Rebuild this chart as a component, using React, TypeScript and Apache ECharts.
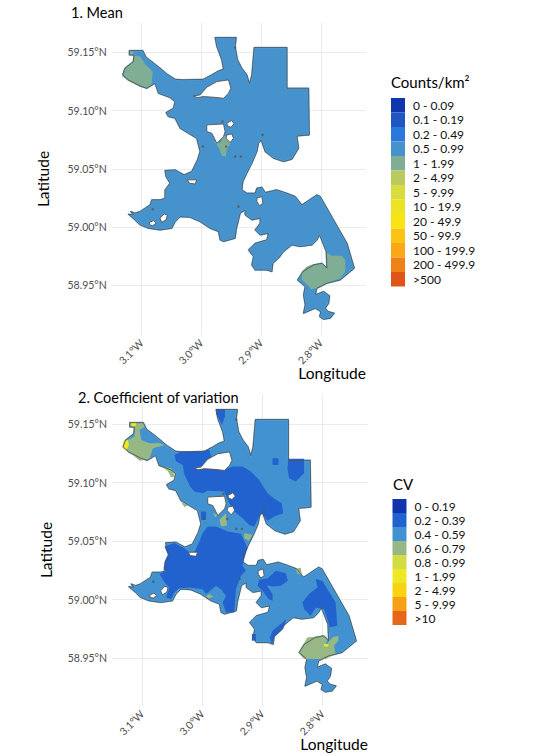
import React, { useEffect, useRef } from "react";
import * as echarts from "echarts";

type Pt = [number, number];

const lonTicks = [-3.1, -3.0, -2.9, -2.8];
const latTicks = [58.95, 59.0, 59.05, 59.1, 59.15];

const meanClasses = ["0 - 0.09", "0.1 - 0.19", "0.2 - 0.49", "0.5 - 0.99", "1 - 1.99", "2 - 4.99", "5 - 9.99", "10 - 19.9", "20 - 49.9", "50 - 99.9", "100 - 199.9", "200 - 499.9", ">500"];
const meanColors = ["#1036ae", "#1f56c4", "#2a78dc", "#4592cc", "#7fae94", "#b9cb5e", "#d8dc3c", "#ece322", "#f8e414", "#fbc412", "#fba716", "#ef8216", "#e15418"];
const cvClasses = ["0 - 0.19", "0.2 - 0.39", "0.4 - 0.59", "0.6 - 0.79", "0.8 - 0.99", "1 - 1.99", "2 - 4.99", "5 - 9.99", ">10"];
const cvColors = ["#0f34ae", "#2162cf", "#4292d2", "#97b884", "#d2dc45", "#eee924", "#f9d312", "#f6a016", "#e4671a"];

const lakeOutline: Pt[] = [
  [-3.1207, 59.1514], [-3.0983, 59.1514], [-3.0927, 59.1457], [-3.0832, 59.142], [-3.0693, 59.1363], [-3.0581, 59.1314], [-3.0441, 59.1268], [-3.0312, 59.1263], [-2.9966, 59.1268], [-2.9826, 59.1306], [-2.9714, 59.134], [-2.963, 59.1354], [-2.9658, 59.1434], [-2.9742, 59.1549], [-2.977, 59.1626], [-2.9418, 59.1626], [-2.9435, 59.1549], [-2.9396, 59.1434], [-2.9323, 59.1363], [-2.9239, 59.1306], [-2.9194, 59.1228], [-2.9155, 59.1306], [-2.9116, 59.154], [-2.8568, 59.154], [-2.8568, 59.1191], [-2.8205, 59.1191], [-2.8194, 59.0791], [-2.8401, 59.0782], [-2.8373, 59.0676], [-2.8485, 59.0582], [-2.8624, 59.0562], [-2.8792, 59.0591], [-2.8932, 59.0648], [-2.8999, 59.0748], [-2.9044, 59.0719], [-2.9071, 59.0648], [-2.9155, 59.0548], [-2.9239, 59.0462], [-2.9306, 59.039],
  [-2.9323, 59.0319], [-2.9239, 59.029], [-2.9099, 59.029], [-2.9071, 59.0333], [-2.8988, 59.0342], [-2.8932, 59.0296], [-2.8736, 59.0319], [-2.8568, 59.029], [-2.8429, 59.0262], [-2.8317, 59.019], [-2.8065, 59.0276], [-2.8009, 59.0262], [-2.7562, 58.9861], [-2.7439, 58.9647], [-2.7674, 58.9547], [-2.7898, 58.9518], [-2.8065, 58.9475], [-2.8093, 58.9418], [-2.7953, 58.9447], [-2.7853, 58.9409], [-2.787, 58.9346], [-2.7926, 58.9304], [-2.7881, 58.9275], [-2.7775, 58.9261], [-2.7842, 58.9218], [-2.7953, 58.9209], [-2.802, 58.9232], [-2.7998, 58.9275], [-2.8093, 58.9304], [-2.8289, 58.9261], [-2.8261, 58.9332], [-2.8289, 58.9418], [-2.8261, 58.9489], [-2.8389, 58.9547], [-2.83, 58.9618], [-2.8121, 58.9675], [-2.7981, 58.969], [-2.7898, 58.9647], [-2.7909, 58.979], [-2.802, 58.9933], [-2.8065, 58.989], [-2.8149, 58.9847], [-2.8345, 58.9833], [-2.8485, 58.9847], [-2.8624, 58.979], [-2.8708, 58.9733], [-2.8803, 58.969], [-2.882, 58.9618], [-2.8904, 58.9632], [-2.9099, 58.9632], [-2.9155, 58.9675], [-2.9127, 58.9747], [-2.9211, 58.9804], [-2.9099, 58.9861], [-2.8904, 58.989], [-2.8876, 58.9947], [-2.9016, 58.9933], [-2.9099, 58.9976], [-2.9016, 59.0033], [-2.9016, 59.0076], [-2.9155, 59.0062], [-2.9267, 59.0104], [-2.9267, 59.0147], [-2.9351, 59.0119], [-2.9418, 58.9976], [-2.9435, 58.9904], [-2.963, 58.9876], [-2.9686, 58.989], [-2.9714, 58.9961], [-2.9854, 58.999], [-3.0022, 59.0047], [-3.0189, 59.0084], [-3.0357, 59.009], [-3.0441, 59.0047], [-3.0497, 58.999], [-3.0693, 58.9976], [-3.0888, 58.999], [-3.1028, 59.0019], [-3.1112, 59.0062], [-3.1224, 59.011], [-3.114, 59.0104], [-3.1184, 59.0133], [-3.1112, 59.0119], [-3.1028, 59.0133], [-3.086, 59.019], [-3.0832, 59.0233], [-3.0693, 59.0233], [-3.0609, 59.0247], [-3.0609, 59.0319], [-3.0525, 59.0376], [-3.0592, 59.0433], [-3.0609, 59.0485], [-3.0441, 59.049], [-3.029, 59.0448], [-3.0162, 59.0476], [-3.0066, 59.0576], [-3.0022, 59.0648], [-3.0078, 59.0762], [-3.0217, 59.0805], [-3.0357, 59.0848], [-3.0441, 59.0934], [-3.0553, 59.0948], [-3.0592, 59.0982], [-3.0469, 59.102], [-3.0441, 59.1077], [-3.0525, 59.1111], [-3.072, 59.1148], [-3.0776, 59.1234], [-3.0916, 59.1191], [-3.1028, 59.1211], [-3.1224, 59.1263], [-3.1319, 59.1306], [-3.128, 59.1363], [-3.114, 59.142], [-3.1129, 59.1477], [-3.1207, 59.1477],
];

const lakeHoles: Pt[][] = [
  [[-3.0134, 59.1125], [-3.0022, 59.1134], [-2.991, 59.12], [-2.9742, 59.1248], [-2.9547, 59.1263], [-2.9507, 59.1191], [-2.9547, 59.1148], [-2.963, 59.1105], [-2.9798, 59.1114], [-2.9966, 59.112], [-3.0066, 59.1111]],
  [[-2.991, 59.0877], [-2.963, 59.0885], [-2.9603, 59.0819], [-2.963, 59.0776], [-2.9742, 59.0719], [-2.9826, 59.0805], [-2.991, 59.0819]],
  [[-2.9575, 59.0891], [-2.9491, 59.0914], [-2.9452, 59.0885], [-2.9507, 59.0857], [-2.9563, 59.0868]],
  [[-2.9575, 59.0791], [-2.9491, 59.0799], [-2.9463, 59.0762], [-2.9519, 59.0725], [-2.9586, 59.0762]],
  [[-3.0871, 59.0039], [-3.0804, 59.0056], [-3.076, 59.0033], [-3.0816, 59.0013], [-3.0871, 59.0019]],
  [[-3.0693, 59.0076], [-3.0625, 59.0113], [-3.057, 59.0104], [-3.0592, 59.0062], [-3.0665, 59.0041]],
  [[-2.9071, 59.0247], [-2.8988, 59.0262], [-2.8971, 59.0204], [-2.9027, 59.0184], [-2.9071, 59.0219]],
  [[-3.0234, 59.0405], [-3.0078, 59.0405], [-3.0106, 59.037], [-3.0201, 59.0376]],
];

const lakeIslands: Pt[] = [[-2.9977, 59.0691], [-2.9647, 59.0905], [-2.9586, 59.0691], [-2.9435, 59.0605], [-2.934, 59.0605], [-2.8976, 59.0791], [-2.9435, 59.154], [-2.9379, 59.0176], [-3.0816, 59.0153]];

const meanClass1: Pt[][] = [
  [[-3.1207, 59.1514], [-3.1151, 59.1506], [-3.1112, 59.1469], [-3.1028, 59.1463], [-3.0944, 59.14], [-3.0816, 59.1334], [-3.0832, 59.1234], [-3.0905, 59.1185], [-3.1028, 59.1205], [-3.1224, 59.1254], [-3.133, 59.1297], [-3.1291, 59.1363], [-3.1151, 59.142], [-3.114, 59.1477], [-3.1207, 59.1477]],
  [[-2.9809, 59.0734], [-2.9698, 59.0719], [-2.9619, 59.0782], [-2.9547, 59.0782], [-2.9507, 59.0725], [-2.9575, 59.0668], [-2.9591, 59.0605], [-2.9658, 59.0611], [-2.9698, 59.0668], [-2.9753, 59.0714]],
  [[-2.7909, 58.9781], [-2.7814, 58.9753], [-2.7646, 58.9753], [-2.759, 58.9718], [-2.759, 58.9618], [-2.7674, 58.9561], [-2.7898, 58.9518], [-2.8065, 58.9475], [-2.8166, 58.9467], [-2.8205, 58.9495], [-2.8317, 58.9547], [-2.8317, 58.9618], [-2.8233, 58.9661], [-2.8121, 58.9684], [-2.7981, 58.969], [-2.7898, 58.9647]],
];

const cvClass02: Pt[][] = [
  [[-2.9772, 59.1631], [-2.9623, 59.1631], [-2.9623, 59.1566], [-2.9673, 59.1494], [-2.9728, 59.1551], [-2.9772, 59.1594]],
  [[-3.0464, 59.1238], [-3.0353, 59.1266], [-2.9994, 59.1272], [-2.9883, 59.1281], [-2.9855, 59.1224], [-2.9772, 59.1124], [-2.9634, 59.111], [-2.9496, 59.1138], [-2.933, 59.1138], [-2.9192, 59.1095], [-2.9053, 59.1024], [-2.8915, 59.091], [-2.8777, 59.0853], [-2.8677, 59.0825], [-2.8655, 59.0739], [-2.8805, 59.0711], [-2.8915, 59.0674], [-2.9009, 59.0739], [-2.9053, 59.0711], [-2.9136, 59.0625], [-2.9219, 59.0639], [-2.933, 59.0696], [-2.9468, 59.0753], [-2.9551, 59.0825], [-2.9634, 59.0924], [-2.9911, 59.093], [-2.9994, 59.091], [-3.0132, 59.0924], [-3.0204, 59.0967], [-3.0242, 59.101], [-3.0298, 59.1067], [-3.0325, 59.1152], [-3.0436, 59.1181]],
  [[-3.0021, 59.0753], [-2.9938, 59.0753], [-2.9938, 59.0682], [-3.0021, 59.0682]],
  [[-3.0629, 59.0454], [-3.0464, 59.0483], [-3.0298, 59.044], [-3.0159, 59.0377], [-3.0049, 59.0497], [-2.9994, 59.0568], [-2.9911, 59.0625], [-2.9772, 59.0625], [-2.9579, 59.0582], [-2.9358, 59.0562], [-2.9297, 59.0497], [-2.9247, 59.044], [-2.9319, 59.0326], [-2.933, 59.0289], [-2.9275, 59.0246], [-2.9358, 59.0203], [-2.9441, 59.0089], [-2.9468, 58.989], [-2.9606, 58.989], [-2.9662, 58.9975], [-2.9606, 59.0032], [-2.9689, 59.0089], [-2.9772, 59.0118], [-2.9938, 59.0047], [-2.9994, 59.0089], [-3.0215, 59.0104], [-3.0392, 59.0095], [-3.0464, 59.0061], [-3.0519, 59.0004], [-3.0602, 59.0018], [-3.0547, 59.0104], [-3.0629, 59.0146], [-3.0712, 59.0218], [-3.0602, 59.0246], [-3.0646, 59.0255], [-3.0629, 59.0326], [-3.0574, 59.0383]],
  [[-2.9053, 59.0169], [-2.8915, 59.018], [-2.8777, 59.0246], [-2.8611, 59.0226], [-2.8578, 59.016], [-2.8694, 59.0118], [-2.8832, 59.0112], [-2.8932, 59.0123], [-2.8832, 59.0047], [-2.8832, 58.999], [-2.8899, 59.0004], [-2.8998, 59.0075], [-2.9081, 59.0118]],
  [[-2.8113, 59.0175], [-2.8003, 59.016], [-2.7782, 58.9975], [-2.7754, 58.9776], [-2.7881, 58.9762], [-2.792, 58.9833], [-2.7975, 58.9918], [-2.8113, 58.9933], [-2.8196, 58.9861], [-2.8307, 58.9918], [-2.8335, 58.9975], [-2.8224, 59.0047], [-2.8086, 59.0104]],
  [[-2.8832, 58.9733], [-2.8666, 58.9804], [-2.86, 58.9833], [-2.8655, 58.9747], [-2.8805, 58.9676], [-2.8843, 58.9619], [-2.8876, 58.967]],
  [[-2.9175, 58.9705], [-2.9109, 58.9705], [-2.9109, 58.9648], [-2.9175, 58.9648]],
  [[-2.8567, 59.1204], [-2.8307, 59.1204], [-2.8307, 59.1081], [-2.8445, 59.101], [-2.8556, 59.1038], [-2.8583, 59.1124]],
  [[-2.8832, 59.1209], [-2.8733, 59.1209], [-2.8733, 59.1152], [-2.8832, 59.1152]],
];

const cvClass06: Pt[][] = [
  [[-3.121, 59.1517], [-3.1017, 59.1517], [-3.0945, 59.148], [-3.1044, 59.1452], [-3.1017, 59.1366], [-3.0878, 59.1338], [-3.0712, 59.1338], [-3.0629, 59.1323], [-3.0823, 59.1295], [-3.0878, 59.1204], [-3.1044, 59.1187], [-3.121, 59.1258], [-3.1321, 59.1301], [-3.1238, 59.1366], [-3.1127, 59.1395], [-3.1127, 59.1466], [-3.121, 59.148]],
  [[-3.0685, 59.1138], [-3.0519, 59.1124], [-3.0453, 59.1053], [-3.0519, 59.1044], [-3.0574, 59.1101]],
  [[-3.0353, 59.0833], [-3.0226, 59.081], [-3.0298, 59.0793]],
  [[-2.9717, 59.0682], [-2.9606, 59.0739], [-2.959, 59.0634], [-2.9689, 59.0625]],
  [[-2.9828, 59.0739], [-2.9745, 59.0725], [-2.9783, 59.0705]],
  [[-2.9302, 59.0568], [-2.9164, 59.0554], [-2.923, 59.0503], [-2.9302, 59.0525]],
  [[-2.8445, 59.026], [-2.8362, 59.0274], [-2.8346, 59.0212], [-2.8418, 59.0218]],
  [[-2.9966, 59.0018], [-2.9883, 59.0047], [-2.9817, 59.0027], [-2.9911, 59.0004]],
  [[-2.8252, 58.9676], [-2.7975, 58.969], [-2.792, 58.9676], [-2.7947, 58.9605], [-2.7837, 58.9676], [-2.7737, 58.969], [-2.7737, 58.9648], [-2.7809, 58.9605], [-2.7782, 58.9534], [-2.7947, 58.9491], [-2.8113, 58.9491], [-2.8307, 58.9491], [-2.8401, 58.9542], [-2.8335, 58.9605]],
];

const cvClass1: Pt[][] = [
  [[-3.1321, 59.1352], [-3.1238, 59.1366], [-3.1221, 59.1323], [-3.1265, 59.1275], [-3.1321, 59.1295]],
  [[-3.1182, 59.1517], [-3.11, 59.1517], [-3.1111, 59.148], [-3.1182, 59.148]],
  [[-2.7975, 58.9619], [-2.7903, 58.9619], [-2.7903, 58.9599], [-2.7975, 58.9599]],
];

const FONT = "Lato";
const INK = "#4d4d4d";

function polygonSeries(name: string, color: string, polys: Pt[][], panel: number, z: number, stroke = "none", lineWidth = 0, fill: string = color) {
  return {
    type: "custom",
    name,
    xAxisIndex: panel,
    yAxisIndex: panel,
    coordinateSystem: "cartesian2d",
    silent: true,
    z,
    itemStyle: { color },
    encode: { x: 0, y: 1 },
    data: polys.map((p, i) => [p[0][0], p[0][1], i]),
    renderItem: (_: unknown, api: any) => ({
      type: "polygon",
      shape: { points: polys[api.value(2)].map((q) => api.coord(q)) },
      style: { fill, stroke, lineWidth, lineJoin: "round" },
    }),
  };
}

function panelSeries(panel: number, base: string, classes: string[], colors: string[], zones: Record<string, Pt[][]>, zoneOrder: string[]) {
  const baseName = panel === 0 ? meanClasses[3] : cvClasses[2];
  const out: any[] = [polygonSeries(baseName, base, [lakeOutline], panel, 2, "#5cabe6", 1.6)];
  zoneOrder.forEach((name, i) => {
    out.push(polygonSeries(name, colors[classes.indexOf(name)], zones[name], panel, 3 + i));
  });
  out.push(polygonSeries("hole", "#ffffff", lakeHoles, panel, 8, "#555555", 0.9));
  out.push(polygonSeries("shore", "#555555", [lakeOutline], panel, 9, "#555555", 0.9, "none"));
  out.push({ type: "scatter", name: "island", xAxisIndex: panel, yAxisIndex: panel, silent: true, symbolSize: 2.5, z: 10, itemStyle: { color: "#555555" }, data: lakeIslands });
  return out;
}

function makeXAxis(gridIndex: number) {
  return {
    type: "value",
    gridIndex,
    min: -3.1503,
    max: -2.7243,
    name: "Longitude",
    nameLocation: "end",
    nameGap: 0,
    nameMoveOverlap: false,
    nameTextStyle: { color: "#000", fontFamily: FONT, fontSize: 15.5, align: "right", verticalAlign: "top", padding: [30, 0, 0, 0] },
    axisLine: { show: false },
    axisTick: { show: false, customValues: lonTicks },
    axisLabel: { customValues: lonTicks, rotate: 45, margin: 6, color: INK, fontFamily: FONT, fontSize: 10.5, formatter: (v: number) => `${Math.abs(v).toFixed(1)}°W` },
    splitLine: { show: true, lineStyle: { color: "#ebebeb", width: 1 } },
  };
}

function makeYAxis(gridIndex: number, min: number, max: number, gap: number) {
  return {
    type: "value",
    gridIndex,
    min,
    max,
    name: "Latitude",
    nameLocation: "middle",
    nameGap: gap,
    nameMoveOverlap: false,
    nameTextStyle: { color: "#000", fontFamily: FONT, fontSize: 15.5 },
    axisLine: { show: false },
    axisTick: { show: false, customValues: latTicks },
    axisLabel: { customValues: latTicks, margin: 5, color: INK, fontFamily: FONT, fontSize: 10.5, formatter: (v: number) => `${v.toFixed(2)}°N` },
    splitLine: { show: true, lineStyle: { color: "#ebebeb", width: 1 } },
  };
}

function legendOf(names: string[], colors: string[], left: number, top: number, itemHeight: number) {
  return {
    show: true,
    orient: "vertical",
    left,
    top,
    padding: 0,
    itemGap: 0,
    itemWidth: 14,
    itemHeight,
    selectedMode: false,
    icon: "rect",
    textStyle: { fontFamily: FONT, fontSize: 12, color: "#111", padding: [0, 0, 0, 3] },
    data: names.map((name, i) => ({ name, icon: "rect", itemStyle: { color: colors[i] } })),
  };
}

function headline(text: string, left: number, top: number, fontSize: number) {
  return { text, left, top, padding: 0, textStyle: { fontFamily: FONT, fontSize, fontWeight: "normal", color: "#000" } };
}

export default function App() {
  const ref = useRef<HTMLDivElement>(null);
  useEffect(() => {
    document.body.style.margin = "0";
    const chart = echarts.init(ref.current!, undefined, { renderer: "svg" });
    const meanZones = { [meanClasses[4]]: meanClass1 };
    const cvZones = { [cvClasses[1]]: cvClass02, [cvClasses[3]]: cvClass06, [cvClasses[5]]: cvClass1 };
    const empties = (classes: string[], colors: string[], used: string[], panel: number) =>
      classes.filter((c) => !used.includes(c)).map((c) => polygonSeries(c, colors[classes.indexOf(c)], [], panel, 1));
    chart.setOption({
      animation: false,
      backgroundColor: "#ffffff",
      title: [
        headline("1. Mean", 71, 5, 14.5),
        headline("2. Coefficient of variation", 78, 390, 14.5),
        headline("Counts/km²", 391, 74, 15),
        headline("CV", 393, 476, 15),
      ],
      grid: [
        { left: 111.7, top: 23, width: 254.3, height: 312 },
        { left: 112, top: 394, width: 256, height: 312 },
      ],
      xAxis: [makeXAxis(0), makeXAxis(1)],
      yAxis: [makeYAxis(0, 58.9074, 59.1751, 61), makeYAxis(1, 58.9089, 59.1759, 58)],
      legend: [legendOf(meanClasses, meanColors, 391, 98, 14.5), legendOf(cvClasses, cvColors, 392.5, 499, 14)],
      series: [
        ...empties(meanClasses, meanColors, [meanClasses[3], meanClasses[4]], 0),
        ...empties(cvClasses, cvColors, [cvClasses[1], cvClasses[2], cvClasses[3], cvClasses[5]], 1),
        ...panelSeries(0, meanColors[3], meanClasses, meanColors, meanZones, [meanClasses[4]]),
        ...panelSeries(1, cvColors[2], cvClasses, cvColors, cvZones, [cvClasses[1], cvClasses[3], cvClasses[5]]),
      ],
    });
    return () => chart.dispose();
  }, []);
  return <div ref={ref} style={{ position: "absolute", left: 0, top: 0, width: 534, height: 756 }} />;
}
